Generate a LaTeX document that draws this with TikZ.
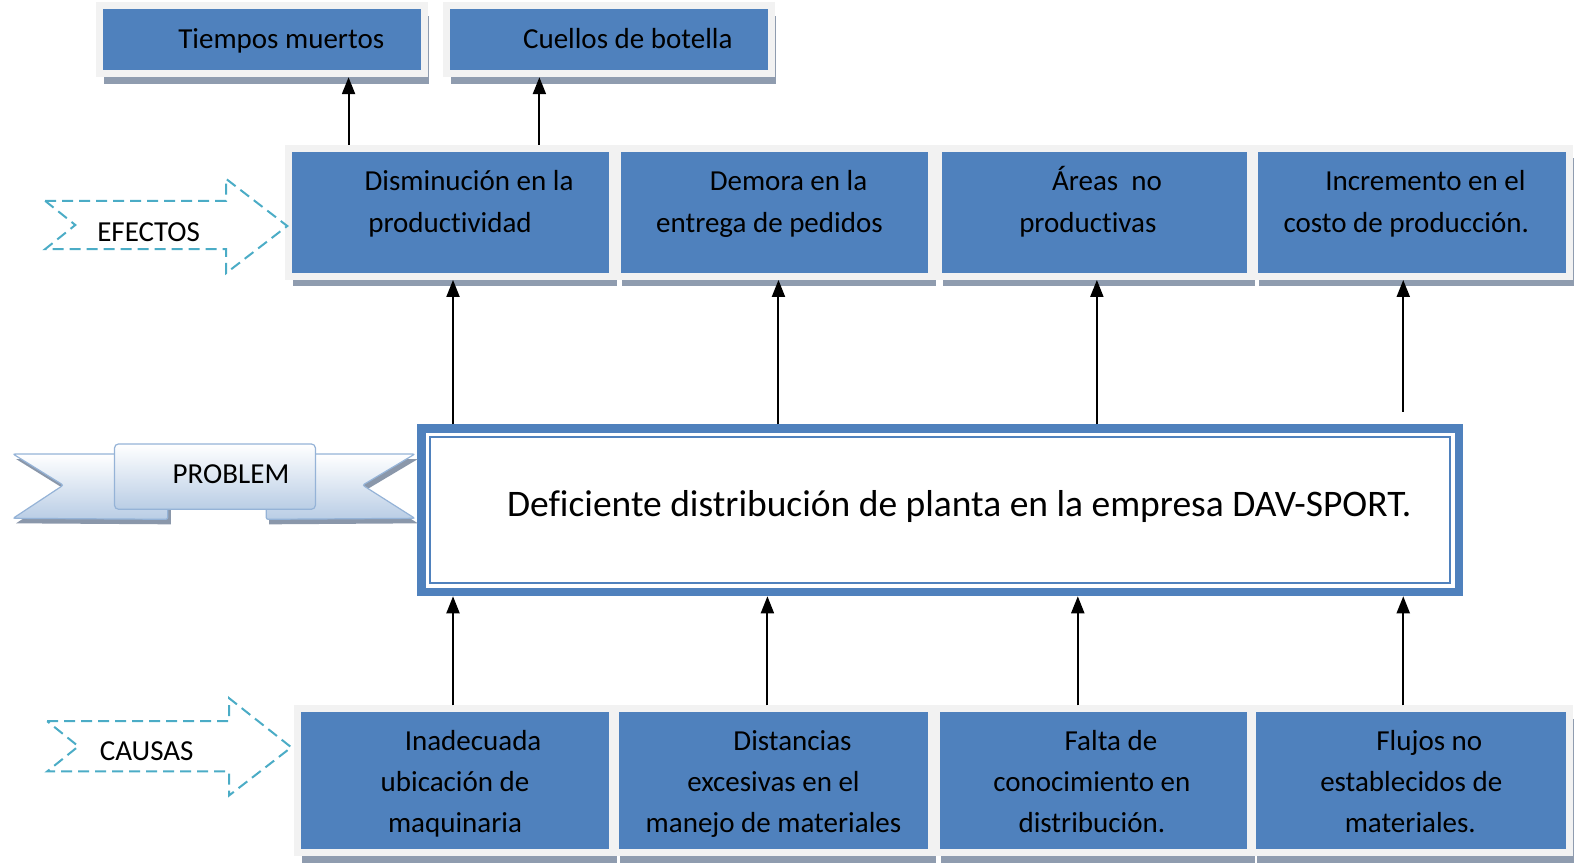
\documentclass[tikz,border=0pt]{standalone}
\usepackage{fontspec}
\setmainfont{Carlito}[Ligatures=NoCommon]
\usetikzlibrary{arrows.meta,shadows,calc}
\definecolor{boxblue}{HTML}{4F81BD}
\definecolor{framec}{HTML}{F2F2F2}
\definecolor{shadc}{HTML}{8F9CAF}
\definecolor{aqua}{HTML}{4BACC6}
\definecolor{ribb}{HTML}{95B3D7}
\definecolor{ribfill}{HTML}{B9CDE5}
\definecolor{ribshad}{HTML}{8A97AA}
\begin{document}
\begin{tikzpicture}[x=1.0045pt,y=-1.0045pt,
  bluebox/.style={fill=boxblue, draw=framec, line width=7pt, inner sep=0pt,
    drop shadow={shadow xshift=4.5pt,shadow yshift=-10pt,opacity=1,fill=shadc}},
  txt/.style={font=\fontsize{29}{35}\selectfont, anchor=base, inner sep=0pt},
  arr/.style={line width=2pt, -{Triangle[width=13pt,length=17pt]}},
  dasharrow/.style={draw=aqua, line width=2pt, dash pattern=on 11pt off 6pt},
  ribbonpart/.style={draw=ribb, line width=1.2pt, top color=white, bottom color=ribfill},
]
\useasboundingbox (0,0) rectangle (1568,859);

% top boxes
\node[bluebox, minimum width=325pt, minimum height=68pt] (t1) at (261,39.5) {};
\node[bluebox, minimum width=325pt, minimum height=68pt] (t2) at (606,39.5) {};
\node[txt] (t1a) at (280,48) {Tiempos muertos};
\node[txt] (t2a) at (625,48) {Cuellos de botella};

% effect boxes
\node[bluebox, minimum width=324pt, minimum height=128pt] (e1) at (448.5,211.5) {};
\node[bluebox, minimum width=314pt, minimum height=128pt] (e2) at (771.5,211.5) {};
\node[bluebox, minimum width=312pt, minimum height=128pt] (e3) at (1089.5,211.5) {};
\node[bluebox, minimum width=315pt, minimum height=128pt] (e4) at (1406,211.5) {};
\node[txt] (e1a) at (467,190) {Disminución en la};
\node[txt] (e1b) at (448,231) {productividad};
\node[txt] (e2a) at (785,190) {Demora en la};
\node[txt] (e2b) at (766,231) {entrega de pedidos};
\node[txt] (e3a) at (1102,190) {Áreas~~no};
\node[txt] (e3b) at (1083,231) {productivas};
\node[txt] (e4a) at (1419,190) {Incremento en el};
\node[txt] (e4b) at (1400,231) {costo de producción.};

% cause boxes
\node[bluebox, minimum width=315pt, minimum height=144pt] (c1) at (453,777.5) {};
\node[bluebox, minimum width=316pt, minimum height=144pt] (c2) at (770.5,777.5) {};
\node[bluebox, minimum width=314pt, minimum height=144pt] (c3) at (1088.5,777.5) {};
\node[bluebox, minimum width=317pt, minimum height=144pt] (c4) at (1405,777.5) {};
\node[txt] (c1a) at (471,747) {Inadecuada};
\node[txt] (c1b) at (453,788) {ubicación de};
\node[txt] (c1c) at (453,829) {maquinaria};
\node[txt] (c2a) at (789,747) {Distancias};
\node[txt] (c2b) at (770,788) {excesivas en el};
\node[txt] (c2c) at (770,829) {manejo de materiales};
\node[txt] (c3a) at (1106,747) {Falta de};
\node[txt] (c3b) at (1087,788) {conocimiento en};
\node[txt] (c3c) at (1087,829) {distribución.};
\node[txt] (c4a) at (1423,747) {Flujos no};
\node[txt] (c4b) at (1405,788) {establecidos de};
\node[txt] (c4c) at (1404,829) {materiales.};

% main problem box
\node[draw=boxblue, line width=8.5pt, fill=white, inner sep=0pt,
  minimum width=1037.5pt, minimum height=163.5pt] (main) at (936,508) {};
\draw[boxblue, line width=2pt] ($(main.north west)+(13,13)$) rectangle ($(main.south east)+(-13,-13)$);
\node[font=\fontsize{37.5}{44}\selectfont, anchor=base, inner sep=0pt] (mtext) at (955,514)
  {Deficiente distribución de planta en la empresa DAV-SPORT.};

% dashed arrows
\draw[dasharrow] (45,200) -- (225,200) -- (225,178) -- (286,225) -- (225,272) -- (225,248) -- (45,248) -- (75,224) -- cycle;
\node[txt] (efectos) at (148,240) {EFECTOS};
\draw[dasharrow] (47,718) -- (228,718) -- (228,695) -- (290,744) -- (228,792) -- (228,768) -- (47,768) -- (78,743) -- cycle;
\node[txt] (causas) at (146,757) {CAUSAS};

% ribbon
\begin{scope}[shift={(3,5)}]
\fill[ribshad] (13,452) -- (167,452) -- (167,517) -- (13,516) -- (63,483) -- cycle;
\fill[ribshad] (413,452) -- (265,452) -- (265,517) -- (413,516) -- (361,483) -- cycle;
\end{scope}
\draw[ribbonpart, rounded corners=2pt] (13,452) -- (167,452) -- (167,517) -- (13,516) -- (63,483) -- cycle;
\draw[ribbonpart, rounded corners=2pt] (413,452) -- (265,452) -- (265,517) -- (413,516) -- (361,483) -- cycle;
\draw[ribbonpart, rounded corners=4pt] (114,442) rectangle (314,507);
\node[txt] (problem) at (230,481) {PROBLEM};

% connectors
\coordinate (xa) at (347,0);
\coordinate (xb) at (537,0);
\draw[arr] (e1.north -| xa) -- (t1.south -| xa);
\draw[arr] (e1.north -| xb) -- (t2.south -| xb);

\coordinate (u1) at (451,0);
\coordinate (u2) at (775,0);
\coordinate (u3) at (1092,0);
\coordinate (s4) at (1397,410);
\draw[arr] (main.north -| u1) -- (e1.south -| u1);
\draw[arr] (main.north -| u2) -- (e2.south -| u2);
\draw[arr] (main.north -| u3) -- (e3.south -| u3);
\draw[arr] (s4) -- (e4.south -| s4);

\coordinate (d1) at (451,0);
\coordinate (d2) at (764,0);
\coordinate (d3) at (1073,0);
\coordinate (d4) at (1397,0);
\draw[arr] (c1.north -| d1) -- (main.south -| d1);
\draw[arr] (c2.north -| d2) -- (main.south -| d2);
\draw[arr] (c3.north -| d3) -- (main.south -| d3);
\draw[arr] (c4.north -| d4) -- (main.south -| d4);
\end{tikzpicture}
\end{document}
